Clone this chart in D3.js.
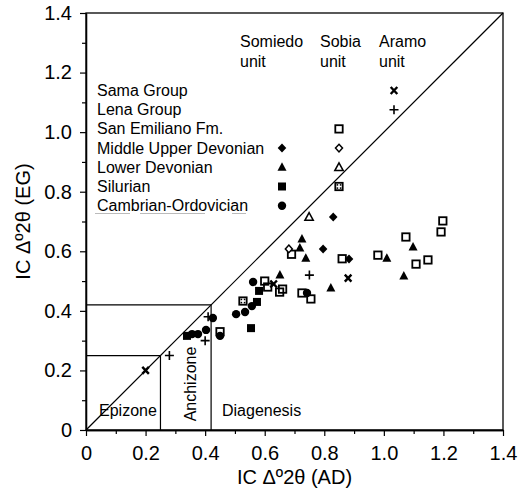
<!DOCTYPE html>
<html><head><meta charset="utf-8">
<script src="https://cdn.jsdelivr.net/npm/d3@7"></script>
<style>
body{margin:0;background:#fff}
svg{display:block}
text{font-family:"Liberation Sans",Arial,Helvetica,sans-serif;fill:#000}
</style>
</head><body>
<svg id="c" width="521" height="489"></svg>
<script>
// ---- data ----
const xTicks = [0, 0.2, 0.4, 0.6, 0.8, 1.0, 1.2, 1.4];
const yTicks = [0, 0.2, 0.4, 0.6, 0.8, 1.0, 1.2, 1.4];
const minorTicks = [0.1, 0.3, 0.5, 0.7, 0.9, 1.1, 1.3];
const unitNames = ["Somiedo", "Sobia", "Aramo"];
const legendLabels = ["Sama Group", "Lena Group", "San Emiliano Fm.", "Middle Upper Devonian",
  "Lower Devonian", "Silurian", "Cambrian-Ordovician"];
const zoneLimits = [0.25, 0.42];
const zoneNames = ["Epizone", "Anchizone", "Diagenesis"];

// Sama Group (Aramo unit)
const samaAramo = [[0.20, 0.20], [0.63, 0.49], [0.88, 0.51]];
// Lena Group (Aramo unit)
const lenaAramo = [[0.28, 0.25], [0.40, 0.30], [0.41, 0.38], [0.75, 0.52]];
// San Emiliano Fm. (Sobia unit)
const sanEmilianoSobia = [[0.45, 0.33], [0.60, 0.50], [0.61, 0.48], [0.65, 0.463], [0.66, 0.473],
  [0.69, 0.59], [0.725, 0.46], [0.755, 0.44], [0.86, 0.575], [0.98, 0.587], [1.074, 0.648],
  [1.108, 0.557], [1.148, 0.571], [1.192, 0.665], [1.198, 0.702]];
// Middle Upper Devonian
const mudSomiedo = [[0.83, 0.715], [0.796, 0.608], [0.883, 0.574]];
const mudSobia = [[0.681, 0.608]];
// Lower Devonian
const ldSomiedo = [[0.725, 0.641], [0.718, 0.611], [0.738, 0.577], [0.651, 0.52], [0.822, 0.477],
  [1.01, 0.577], [1.098, 0.614], [1.067, 0.517]];
const ldSobia = [[0.749, 0.715]];
// Silurian
const silSomiedo = [[0.339, 0.316], [0.581, 0.467], [0.574, 0.43], [0.554, 0.342]];
const silSobia = [[0.527, 0.433]];
// Cambrian-Ordovician
const coSomiedo = [[0.356, 0.322], [0.376, 0.322], [0.403, 0.336], [0.426, 0.376], [0.45, 0.316],
  [0.504, 0.389], [0.534, 0.396], [0.557, 0.416], [0.561, 0.497], [0.742, 0.46]];

const series = [
  {data: sanEmilianoSobia, type: "openSquare"},
  {data: silSobia, type: "patternSquare"},
  {data: ldSobia, type: "openTriangle"},
  {data: mudSobia, type: "openDiamond"},
  {data: silSomiedo, type: "filledSquare"},
  {data: coSomiedo, type: "filledCircle"},
  {data: ldSomiedo, type: "filledTriangle"},
  {data: mudSomiedo, type: "filledDiamond"},
  {data: lenaAramo, type: "plus"},
  {data: samaAramo, type: "cross"}
];
// legend: row -> [column, marker]
const legendMarks = [
  [[2, "cross"]],
  [[2, "plus"]],
  [[1, "openSquare"]],
  [[0, "filledDiamond"], [1, "openDiamond"]],
  [[0, "filledTriangle"], [1, "openTriangle"]],
  [[0, "filledSquare"], [1, "patternSquare"]],
  [[0, "filledCircle"]]
];

// ---- layout ----
const svg = d3.select("#c");
const x = d3.scaleLinear().domain([0, 1.4]).range([86, 503]);
const y = d3.scaleLinear().domain([0, 1.4]).range([430, 13]);
const fmt = d => d === 0 ? "0" : d3.format(".1f")(d);

// frame
svg.append("rect").attr("x", x(0)).attr("y", y(1.4)).attr("width", x(1.4) - x(0)).attr("height", y(0) - y(1.4))
  .attr("fill", "none").attr("stroke", "#000").attr("stroke-width", 1.3);

// axes
const xAxis = svg.append("g").attr("transform", `translate(0,${y(0)})`)
  .call(d3.axisBottom(x).tickValues(xTicks).tickFormat(fmt).tickSizeInner(6).tickSizeOuter(0).tickPadding(10));
svg.append("g").attr("transform", `translate(0,${y(0)})`)
  .call(d3.axisBottom(x).tickValues(minorTicks).tickFormat("").tickSizeInner(4).tickSizeOuter(0));
const yAxis = svg.append("g").attr("transform", `translate(${x(0)},0)`)
  .call(d3.axisLeft(y).tickValues(yTicks).tickFormat(fmt).tickSizeInner(6).tickSizeOuter(0).tickPadding(8));
svg.append("g").attr("transform", `translate(${x(0)},0)`)
  .call(d3.axisLeft(y).tickValues(minorTicks).tickFormat("").tickSizeInner(4).tickSizeOuter(0));
svg.selectAll(".domain").attr("stroke", "#000").attr("stroke-width", 1.3);
svg.selectAll(".tick line").attr("stroke", "#000").attr("stroke-width", 1.2);
svg.selectAll(".tick text").attr("font-size", 20).attr("font-family", '"Liberation Sans",Arial,sans-serif').attr("fill", "#000");

// axis titles
svg.append("text").attr("x", (x(0) + x(1.4)) / 2).attr("y", 484).attr("text-anchor", "middle")
  .attr("font-size", 20).text("IC Δº2θ (AD)");
svg.append("text").attr("transform", `translate(30,${(y(0) + y(1.4)) / 2}) rotate(-90)`).attr("text-anchor", "middle")
  .attr("font-size", 20).text("IC Δº2θ (EG)");

// diagonal 1:1 line
svg.append("line").attr("x1", x(0)).attr("y1", y(0)).attr("x2", x(1.4)).attr("y2", y(1.4))
  .attr("stroke", "#000").attr("stroke-width", 1.2);

// zone boxes
zoneLimits.forEach(v => {
  svg.append("path").attr("d", `M${x(0)},${y(v)}L${x(v)},${y(v)}L${x(v)},${y(0)}`)
    .attr("fill", "none").attr("stroke", "#000").attr("stroke-width", 1.2);
});
svg.append("text").attr("x", 99).attr("y", 416).attr("font-size", 16).text(zoneNames[0]);
svg.append("text").attr("transform", `translate(196,384) rotate(-90)`).attr("text-anchor", "middle")
  .attr("font-size", 16).text(zoneNames[1]);
svg.append("text").attr("x", 222).attr("y", 416).attr("font-size", 16).text(zoneNames[2]);

// marker drawing
function marker(g, type, cx, cy) {
  const k = "#000";
  switch (type) {
    case "filledCircle":
      g.append("circle").attr("cx", cx).attr("cy", cy).attr("r", 4.2).attr("fill", k); break;
    case "filledSquare":
      g.append("rect").attr("x", cx - 4).attr("y", cy - 4).attr("width", 8).attr("height", 8).attr("fill", k); break;
    case "openSquare":
      g.append("rect").attr("x", cx - 3.7).attr("y", cy - 3.7).attr("width", 7.4).attr("height", 7.4)
        .attr("fill", "none").attr("stroke", k).attr("stroke-width", 1.8); break;
    case "patternSquare":
      g.append("rect").attr("x", cx - 3.7).attr("y", cy - 3.7).attr("width", 7.4).attr("height", 7.4)
        .attr("fill", "#fff").attr("stroke", k).attr("stroke-width", 1.8);
      [[-1.6, -1.6], [1.6, -1.6], [-1.6, 1.6], [1.6, 1.6]].forEach(([dx, dy]) =>
        g.append("rect").attr("x", cx + dx - 0.8).attr("y", cy + dy - 0.8).attr("width", 1.6).attr("height", 1.6).attr("fill", k));
      break;
    case "filledTriangle":
      g.append("path").attr("d", `M${cx},${cy - 5}L${cx + 4.5},${cy + 3.5}L${cx - 4.5},${cy + 3.5}Z`).attr("fill", k); break;
    case "openTriangle":
      g.append("path").attr("d", `M${cx},${cy - 4.5}L${cx + 4.2},${cy + 3.3}L${cx - 4.2},${cy + 3.3}Z`)
        .attr("fill", "#fff").attr("stroke", k).attr("stroke-width", 1.5); break;
    case "filledDiamond":
      g.append("path").attr("d", `M${cx},${cy - 4.5}L${cx + 4.3},${cy}L${cx},${cy + 4.5}L${cx - 4.3},${cy}Z`).attr("fill", k); break;
    case "openDiamond":
      g.append("path").attr("d", `M${cx},${cy - 3.8}L${cx + 3.5},${cy}L${cx},${cy + 3.8}L${cx - 3.5},${cy}Z`)
        .attr("fill", "#fff").attr("stroke", k).attr("stroke-width", 1.5); break;
    case "cross":
      g.append("path").attr("d", `M${cx - 3.3},${cy - 3.5}L${cx + 3.3},${cy + 3.5}M${cx + 3.3},${cy - 3.5}L${cx - 3.3},${cy + 3.5}`)
        .attr("stroke", k).attr("stroke-width", 2.4).attr("fill", "none"); break;
    case "plus":
      g.append("path").attr("d", `M${cx - 4.5},${cy}L${cx + 4.5},${cy}M${cx},${cy - 4.5}L${cx},${cy + 4.5}`)
        .attr("stroke", k).attr("stroke-width", 1.6).attr("fill", "none"); break;
  }
}

// data points
const pts = svg.append("g");
series.forEach(s => s.data.forEach(d => marker(pts, s.type, x(d[0]), y(d[1]))));

// legend
const colX = [282, 339, 394];
const headG = svg.append("g");
const headX = [240, 320, 379];
unitNames.forEach((n, i) => {
  headG.append("text").attr("x", headX[i]).attr("y", 47).attr("font-size", 16).text(n);
  headG.append("text").attr("x", headX[i]).attr("y", 67).attr("font-size", 16).text("unit");
});
const leg = svg.append("g");
legendLabels.forEach((t, i) => {
  const by = 96 + i * 19.2;
  leg.append("text").attr("x", 97).attr("y", by).attr("font-size", 16).text(t);
  legendMarks[i].forEach(([c, type]) => marker(leg, type, colX[c], by - 5.5));
});
// faint scan line under legend
leg.append("path").attr("d", "M95,213.5L130,213.5M140,213.5L205,213.5M232,213.5L246,213.5")
  .attr("stroke", "#bbb").attr("stroke-width", 1);
</script>
</body></html>
